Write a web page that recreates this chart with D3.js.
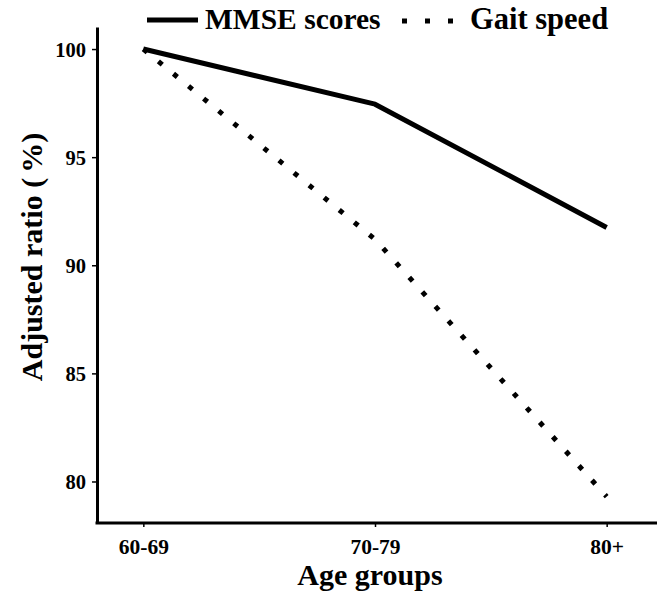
<!DOCTYPE html>
<html>
<head>
<meta charset="utf-8">
<script src="https://cdn.jsdelivr.net/npm/d3@7"></script>
<style>
  html, body { margin: 0; padding: 0; background: #fff; }
  svg { display: block; }
</style>
</head>
<body>
<svg id="chart" width="657" height="596"></svg>
<script>
const categories = ["60-69", "70-79", "80+"];
const mmseScores = [100, 97.45, 91.75];
const gaitSpeed = [100, 91.2, 79.3];
const yTicks = [80, 85, 90, 95, 100];
const seriesNames = ["MMSE scores", "Gait speed"];

const FONT = "'Liberation Serif', 'Times New Roman', Tinos, 'DejaVu Serif', serif";
const svg = d3.select("#chart");
const mLeft = 97, mTop = 27, mBottom = 523, mRight = 653;

const x = d3.scalePoint().domain(categories).range([mLeft, mRight]).padding(0.2);
const y = d3.scaleLinear().domain([78.08, 101.02]).range([mBottom, mTop]);

// axes
const yAxis = svg.append("g").attr("transform", `translate(${mLeft},0)`)
  .call(d3.axisLeft(y).tickValues(yTicks).tickSize(5).tickSizeOuter(0).tickPadding(6));
yAxis.attr("font-family", null).attr("font-size", null);
yAxis.select(".domain").attr("stroke", "#000").attr("stroke-width", 3);
yAxis.selectAll(".tick line").attr("stroke", "#000").attr("stroke-width", 1.5);
yAxis.selectAll(".tick text").attr("font-family", FONT).attr("font-weight", "bold")
  .attr("font-size", 20.5).attr("dy", "0.35em").attr("fill", "#000");

const xAxis = svg.append("g").attr("transform", `translate(0,${mBottom})`)
  .call(d3.axisBottom(x).tickSize(4).tickSizeOuter(0).tickPadding(12));
xAxis.attr("font-family", null).attr("font-size", null);
xAxis.select(".domain").attr("d", `M${mLeft - 1.5},0H657`).attr("stroke", "#000").attr("stroke-width", 3);
xAxis.selectAll(".tick line").attr("stroke", "#000").attr("stroke-width", 1.5);
xAxis.selectAll(".tick text").attr("font-family", FONT).attr("font-weight", "bold")
  .attr("font-size", 21.5).attr("fill", "#000");

// axis titles
svg.append("text").attr("x", 370).attr("y", 585).attr("text-anchor", "middle")
  .attr("font-family", FONT).attr("font-weight", "bold").attr("font-size", 30).text("Age groups");
const yt = svg.append("text").attr("transform", `translate(42,257) rotate(-90)`)
  .attr("text-anchor", "middle").attr("font-family", FONT).attr("font-weight", "bold")
  .attr("font-size", 30);
yt.append("tspan").text("Adjusted ratio (");
yt.append("tspan").attr("dx", 5).text("%)");

// lines
const line = d3.line().x((d, i) => x(categories[i])).y(d => y(d));
svg.append("path").datum(mmseScores).attr("d", line)
  .attr("fill", "none").attr("stroke", "#000").attr("stroke-width", 5)
  .attr("stroke-linejoin", "round");
svg.append("path").datum(gaitSpeed).attr("d", line)
  .attr("fill", "none").attr("stroke", "#000").attr("stroke-width", 5)
  .attr("stroke-dasharray", "5 14.5");

// legend
const lg = svg.append("g");
lg.append("line").attr("x1", 147).attr("x2", 198).attr("y1", 20).attr("y2", 20)
  .attr("stroke", "#000").attr("stroke-width", 5);
lg.append("text").attr("x", 205).attr("y", 29).attr("font-family", FONT).attr("font-weight", "bold")
  .attr("font-size", 29.5).text(seriesNames[0]);
lg.append("line").attr("x1", 402).attr("x2", 456).attr("y1", 21).attr("y2", 21)
  .attr("stroke", "#000").attr("stroke-width", 5).attr("stroke-dasharray", "5 18");
lg.append("text").attr("x", 470).attr("y", 29).attr("font-family", FONT).attr("font-weight", "bold")
  .attr("font-size", 30.5).text(seriesNames[1]);
</script>
</body>
</html>
